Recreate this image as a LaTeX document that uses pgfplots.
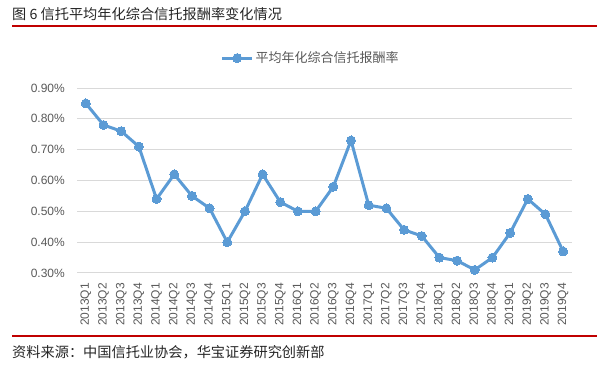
\documentclass[border=0pt]{standalone}
\usepackage{pgfplots}
\pgfplotsset{compat=1.18}
\usepackage{fontspec}
\setmainfont{Liberation Sans}
\newfontfamily\cjk{Noto Sans CJK SC}
\definecolor{lineblue}{HTML}{5B9BD5}
\definecolor{gridgray}{HTML}{D9D9D9}
\definecolor{ticktext}{HTML}{595959}
\definecolor{redline}{HTML}{C00000}
\begin{document}
\begin{tikzpicture}[x=1pt,y=1pt]
\path (0,0) rectangle (600,366);
% header
\node[anchor=west,inner sep=0pt,text=black!85] at (12,352) {\cjk\fontsize{14.2}{16}\selectfont 图 6 信托平均年化综合信托报酬率变化情况};
\draw[redline,line width=2pt] (12,340) -- (597,340);
% footer
\draw[redline,line width=2pt] (12,29.5) -- (597,29.5);
\node[anchor=west,inner sep=0pt,text=black!85] at (12,14) {\cjk\fontsize{14.2}{16}\selectfont 资料来源：中国信托业协会，华宝证券研究创新部};
\begin{axis}[
  at={(77pt,93pt)}, anchor=south west,
  width=495pt, height=185pt, scale only axis,
  xmin=-0.5, xmax=27.5, ymin=0.3, ymax=0.9,
  axis line style={draw=none},
  ymajorgrids, grid style={gridgray, line width=1pt},
  major tick length=0pt,
  ytick={0.3,0.4,0.5,0.6,0.7,0.8,0.9},
  yticklabels={0.30\%,0.40\%,0.50\%,0.60\%,0.70\%,0.80\%,0.90\%},
  xtick={0,...,27},
  xticklabels={2013Q1,2013Q2,2013Q3,2013Q4,2014Q1,2014Q2,2014Q3,2014Q4,2015Q1,2015Q2,2015Q3,2015Q4,2016Q1,2016Q2,2016Q3,2016Q4,2017Q1,2017Q2,2017Q3,2017Q4,2018Q1,2018Q2,2018Q3,2018Q4,2019Q1,2019Q2,2019Q3,2019Q4},
  xticklabel shift=10pt, yticklabel shift=12pt,
  x tick label style={rotate=90, anchor=east, font=\fontsize{12}{12}\selectfont, text=ticktext, inner sep=0pt},
  y tick label style={font=\fontsize{12}{13}\selectfont, text=ticktext, inner sep=0pt},
  /pgf/number format/assume math mode=true,
  legend style={draw=none, fill=none, at={(0.29,1.162)}, anchor=west, font=\cjk\fontsize{13}{14}\selectfont, text=ticktext, inner sep=0pt},
  legend image code/.code={\draw[#1, mark repeat=2, mark phase=2] plot coordinates {(0pt,0pt) (15pt,0pt) (30pt,0pt)};},
  clip=false,
]
\addplot[lineblue, line width=3pt, mark=*, mark size=4.5pt, mark options={fill=lineblue, draw=lineblue, line width=0pt}] coordinates {
(0,0.85) (1,0.78) (2,0.76) (3,0.71) (4,0.54) (5,0.62) (6,0.55) (7,0.51)
(8,0.40) (9,0.50) (10,0.62) (11,0.53) (12,0.50) (13,0.50) (14,0.58) (15,0.73)
(16,0.52) (17,0.51) (18,0.44) (19,0.42) (20,0.35) (21,0.34) (22,0.31) (23,0.35)
(24,0.43) (25,0.54) (26,0.49) (27,0.37)
};
\addlegendentry{平均年化综合信托报酬率}
\end{axis}
\end{tikzpicture}
\end{document}
